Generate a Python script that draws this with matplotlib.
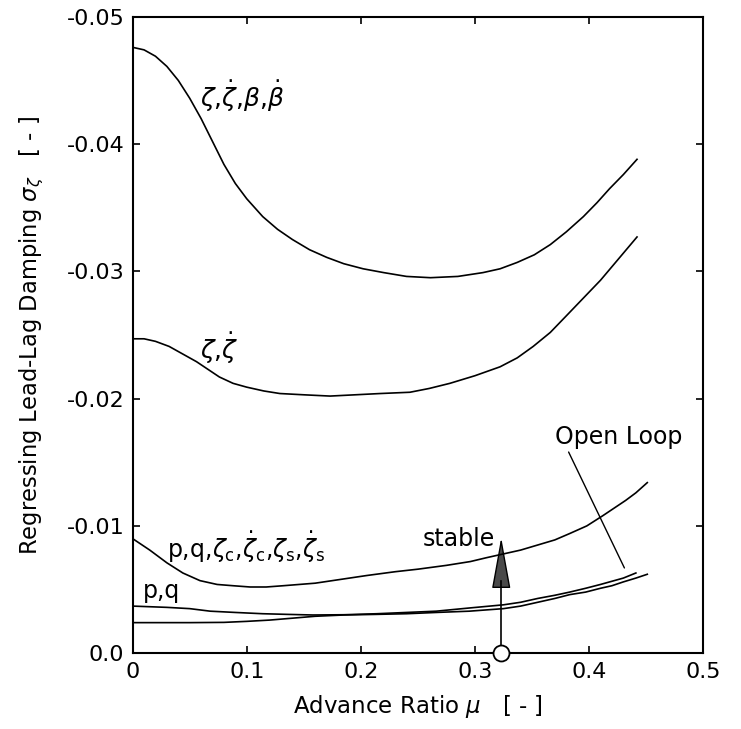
import matplotlib
matplotlib.use("Agg")
import matplotlib.pyplot as plt
from matplotlib.patches import FancyArrowPatch

# curve data (advance ratio mu, lead-lag damping)
# zeta, zeta_dot, beta, beta_dot feedback
mu_a = [0.0, 0.010, 0.020, 0.030, 0.040, 0.050, 0.060, 0.070, 0.080, 0.090, 0.100, 0.114,
        0.127, 0.140, 0.155, 0.170, 0.185, 0.202, 0.22, 0.24, 0.261, 0.285, 0.307, 0.322,
        0.337, 0.352, 0.366, 0.380, 0.395, 0.407, 0.418, 0.430, 0.442]
sig_a = [-0.0476, -0.0474, -0.0469, -0.0461, -0.0450, -0.0436, -0.0420, -0.0402, -0.0384,
         -0.0369, -0.0357, -0.0343, -0.0333, -0.0325, -0.0317, -0.0311, -0.0306, -0.0302,
         -0.0299, -0.0296, -0.0295, -0.0296, -0.0299, -0.0302, -0.0307, -0.0313, -0.0321,
         -0.0331, -0.0343, -0.0354, -0.0365, -0.0376, -0.0388]

# zeta, zeta_dot feedback
mu_b = [0.0, 0.010, 0.020, 0.032, 0.044, 0.056, 0.066, 0.076, 0.088, 0.100, 0.115, 0.129,
        0.150, 0.173, 0.195, 0.217, 0.243, 0.26, 0.278, 0.30, 0.322, 0.337, 0.351, 0.366,
        0.380, 0.395, 0.410, 0.426, 0.442]
sig_b = [-0.0247, -0.0247, -0.0245, -0.0241, -0.0235, -0.0229, -0.0223, -0.0217, -0.0212,
         -0.0209, -0.0206, -0.0204, -0.0203, -0.0202, -0.0203, -0.0204, -0.0205, -0.0208,
         -0.0212, -0.0218, -0.0225, -0.0232, -0.0241, -0.0252, -0.0265, -0.0279, -0.0293,
         -0.0310, -0.0327]

# p, q, zeta_c, zeta_c_dot, zeta_s, zeta_s_dot feedback
mu_c = [0.0, 0.015, 0.030, 0.044, 0.059, 0.074, 0.088, 0.103, 0.117, 0.132, 0.146, 0.160,
        0.175, 0.19, 0.205, 0.23, 0.25, 0.275, 0.296, 0.31, 0.325, 0.34, 0.355, 0.37,
        0.383, 0.398, 0.412, 0.422, 0.432, 0.441, 0.451]
sig_c = [-0.0090, -0.0081, -0.0071, -0.0063, -0.0057, -0.0054, -0.0053, -0.0052, -0.0052,
         -0.0053, -0.0054, -0.0055, -0.0057, -0.0059, -0.0061, -0.0064, -0.0066, -0.0069,
         -0.0072, -0.0075, -0.0078, -0.0081, -0.0085, -0.0089, -0.0094, -0.0100, -0.0108,
         -0.0114, -0.0120, -0.0126, -0.0134]

# p, q feedback
mu_d = [0.0, 0.03, 0.05, 0.068, 0.09, 0.114, 0.135, 0.158, 0.185, 0.214, 0.24, 0.266,
        0.295, 0.325, 0.34, 0.355, 0.37, 0.383, 0.397, 0.41, 0.42, 0.43, 0.441]
sig_d = [-0.0037, -0.0036, -0.0035, -0.0033, -0.0032, -0.0031, -0.00305, -0.0030, -0.00302,
         -0.0031, -0.0032, -0.0033, -0.00355, -0.0038, -0.0040, -0.0043, -0.00455, -0.0048,
         -0.0051, -0.0054, -0.00565, -0.0059, -0.0063]

# open loop
mu_e = [0.0, 0.05, 0.08, 0.10, 0.12, 0.14, 0.16, 0.185, 0.214, 0.24, 0.266, 0.295, 0.325,
        0.34, 0.355, 0.37, 0.383, 0.397, 0.41, 0.42, 0.43, 0.441, 0.451]
sig_e = [-0.0024, -0.0024, -0.00242, -0.0025, -0.0026, -0.00275, -0.0029, -0.0030, -0.00305,
         -0.0031, -0.0032, -0.0033, -0.0035, -0.0037, -0.0040, -0.0043, -0.0046, -0.0048,
         -0.0051, -0.0053, -0.0056, -0.0059, -0.0062]

xticks = [0.0, 0.1, 0.2, 0.3, 0.4, 0.5]
xticklabels = ["0", "0.1", "0.2", "0.3", "0.4", "0.5"]
yticks = [0.0, -0.01, -0.02, -0.03, -0.04, -0.05]
yticklabels = ["0.0", "-0.01", "-0.02", "-0.03", "-0.04", "-0.05"]

mu_marker = 0.323
sig_arrow_tip = -0.0093

plt.rcParams['mathtext.fontset'] = 'dejavusans'

fig = plt.figure(figsize=(7.41, 7.29), dpi=100)
ax = fig.add_axes([0.179, 0.104, 0.770, 0.873])

for m, s in [(mu_a, sig_a), (mu_b, sig_b), (mu_c, sig_c), (mu_d, sig_d), (mu_e, sig_e)]:
    ax.plot(m, s, color='black', lw=1.2)

ax.set_xlim(0, 0.5)
ax.set_ylim(0, -0.05)
ax.set_xticks(xticks)
ax.set_xticklabels(xticklabels)
ax.set_yticks(yticks)
ax.set_yticklabels(yticklabels)
ax.tick_params(direction='in', top=True, right=True, length=5, width=1.2,
               labelsize=16, pad=6)
for sp in ax.spines.values():
    sp.set_linewidth(1.5)

ax.set_xlabel(r"Advance Ratio $\mu$   [ - ]", fontsize=16.5, labelpad=8)
ax.set_ylabel(r"Regressing Lead-Lag Damping $\sigma_\zeta$   [ - ]", fontsize=16.3, labelpad=15)

# curve labels
ax.text(0.059, -0.0438, r"$\zeta{,}\dot{\zeta}{,}\beta{,}\dot{\beta}$", fontsize=18, va='center')
ax.text(0.059, -0.0240, r"$\zeta{,}\dot{\zeta}$", fontsize=18, va='center')
ax.text(0.03, -0.0083,
        r"p,q,$\zeta_{\rm c}$,$\dot{\zeta}_{\rm c}$,$\zeta_{\rm s}$,$\dot{\zeta}_{\rm s}$",
        fontsize=17, va='center')
ax.text(0.009, -0.0049, "p,q", fontsize=17, va='center')
ax.text(0.254, -0.0090, "stable", fontsize=17, va='center')
ax.text(0.370, -0.0170, "Open Loop", fontsize=17, va='center')

# pointer to open loop curve
ax.annotate("", xy=(0.432, -0.0065), xytext=(0.381, -0.0160),
            arrowprops=dict(arrowstyle='-', color='black', lw=1.0))

# stability arrow
ax.plot([mu_marker, mu_marker], [0.0, -0.0057], color='black', lw=1.2)
arr = FancyArrowPatch((mu_marker, -0.0050), (mu_marker, sig_arrow_tip),
                      arrowstyle='-|>,head_length=3.3,head_width=0.6', mutation_scale=10,
                      edgecolor='black', facecolor='#4a4a4a', lw=1.0)
ax.add_patch(arr)
ax.plot([mu_marker], [0.0], marker='o', markersize=11.5, markerfacecolor='white',
        markeredgecolor='black', markeredgewidth=1.3, clip_on=False, zorder=5)

fig.savefig("out.png", dpi=100)
